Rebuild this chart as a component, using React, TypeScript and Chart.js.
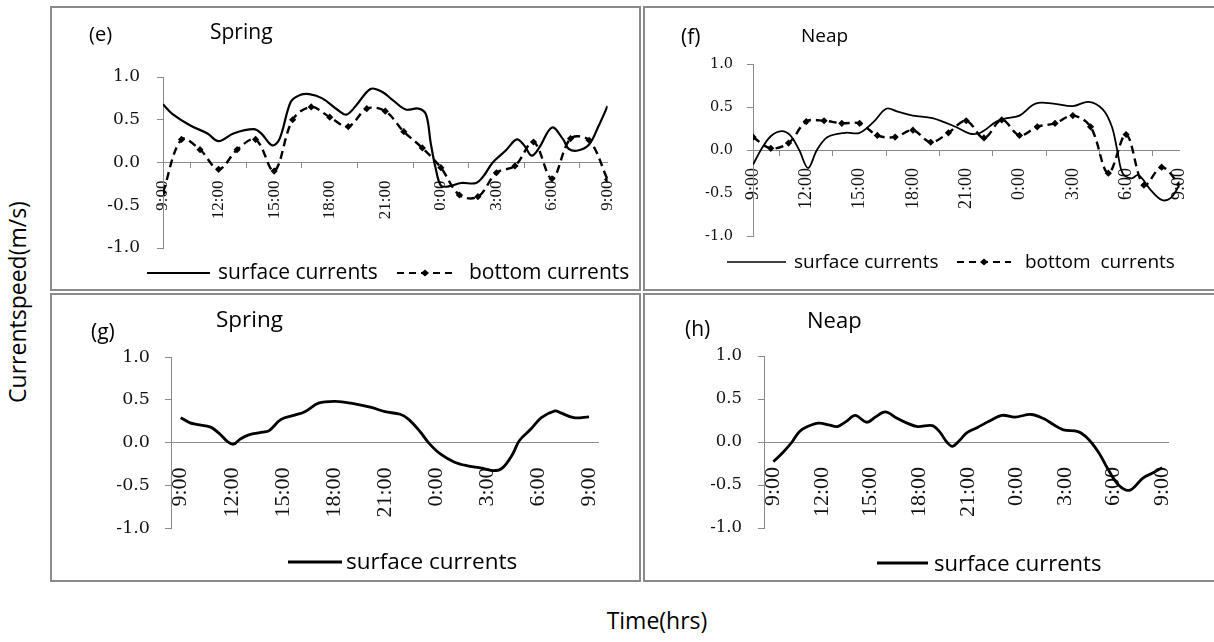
import React, { useEffect, useRef } from "react";
import { Chart, registerables } from "chart.js";
Chart.register(...registerables);

// ---- shared axis data ----
const labelHours = [0, 3, 6, 9, 12, 15, 18, 21, 24];
const timeLabels = ["9:00", "12:00", "15:00", "18:00", "21:00", "0:00", "3:00", "6:00", "9:00"];
const markHours = [1.5, 4.5, 7.5, 10.5, 13.5, 16.5, 19.5, 22.5];
const yTickValues = [-1, -0.5, 0, 0.5, 1];

// ---- (e) Spring, surface & bottom ----
const eSurfaceHours = [0, 0.5, 1.5, 2.4, 3.0, 3.8, 4.9, 5.3, 5.9, 6.3, 6.9, 7.4, 7.9, 8.6, 9.4, 9.9, 10.4, 11.2, 11.8, 12.4, 13.1, 13.8, 14.2, 14.45, 14.7, 15.0, 15.4, 16.1, 16.9, 17.3, 17.8, 18.5, 19.1, 19.5, 19.9, 20.3, 21.0, 21.6, 21.9, 22.4, 23.0, 23.5, 24];
const eSurface = [0.68, 0.57, 0.43, 0.34, 0.25, 0.34, 0.39, 0.34, 0.20, 0.28, 0.71, 0.79, 0.80, 0.75, 0.62, 0.56, 0.66, 0.86, 0.83, 0.73, 0.62, 0.63, 0.56, 0.23, -0.05, -0.27, -0.28, -0.24, -0.24, -0.16, 0.0, 0.14, 0.27, 0.20, 0.08, 0.17, 0.41, 0.27, 0.16, 0.14, 0.21, 0.42, 0.66];
const eBottomHours = [0, 1, 2, 3, 4, 5, 6, 7, 8, 9, 10, 11, 12, 13, 14, 15, 16, 17, 18, 19, 20, 21, 22, 23, 24];
const eBottom = [-0.35, 0.27, 0.15, -0.08, 0.15, 0.27, -0.10, 0.50, 0.65, 0.53, 0.42, 0.63, 0.60, 0.36, 0.17, -0.06, -0.38, -0.40, -0.12, -0.04, 0.24, -0.19, 0.28, 0.26, -0.20];

// ---- (f) Neap, surface & bottom ----
const fSurfaceHours = [0, 0.5, 1, 1.6, 2.1, 2.6, 3.1, 3.6, 4.2, 5.2, 6.0, 6.8, 7.5, 8.1, 9.0, 10.1, 11.4, 12.2, 12.8, 13.7, 14.3, 15.0, 15.9, 16.9, 18.0, 18.9, 19.7, 20.2, 20.5, 20.8, 21.3, 21.7, 22.4, 23.0, 23.5, 24];
const fSurface = [-0.17, 0.02, 0.16, 0.22, 0.17, 0.0, -0.21, 0.0, 0.15, 0.20, 0.20, 0.33, 0.48, 0.45, 0.40, 0.37, 0.27, 0.19, 0.20, 0.33, 0.37, 0.40, 0.54, 0.54, 0.51, 0.56, 0.47, 0.27, 0.0, -0.27, -0.33, -0.29, -0.47, -0.58, -0.56, -0.41];
const fBottomHours = [0, 1, 2, 3, 4, 5, 6, 7, 8, 9, 10, 11, 12, 13, 14, 15, 16, 17, 18, 19, 20, 21, 22, 23, 24];
const fBottom = [0.15, 0.02, 0.08, 0.33, 0.34, 0.31, 0.31, 0.17, 0.15, 0.23, 0.09, 0.20, 0.34, 0.14, 0.35, 0.17, 0.27, 0.31, 0.40, 0.27, -0.27, 0.18, -0.41, -0.20, -0.40];

// ---- (g) Spring, surface ----
const gSurfaceHours = [0, 0.55, 1, 1.75, 2.3, 2.75, 3.1, 3.5, 4.0, 4.8, 5.2, 5.9, 6.7, 7.3, 8.1, 9.1, 10.0, 11.2, 12.0, 12.9, 13.4, 14.1, 14.6, 15.3, 16.1, 16.8, 17.7, 18.4, 18.9, 19.5, 19.9, 20.6, 21.2, 22.0, 22.3, 23.1, 24];
const gSurface = [0.29, 0.23, 0.21, 0.18, 0.10, 0.01, -0.02, 0.04, 0.09, 0.12, 0.14, 0.27, 0.32, 0.36, 0.46, 0.48, 0.46, 0.41, 0.36, 0.33, 0.27, 0.12, -0.01, -0.14, -0.23, -0.27, -0.30, -0.33, -0.30, -0.14, 0.02, 0.16, 0.29, 0.37, 0.35, 0.29, 0.30];

// ---- (h) Neap, surface ----
const hSurfaceHours = [0, 0.6, 1.15, 1.6, 2.1, 2.8, 3.4, 3.95, 4.5, 5.05, 5.75, 6.3, 6.9, 7.6, 8.25, 8.9, 9.8, 10.25, 10.7, 11.05, 11.5, 11.95, 12.6, 13.3, 14.1, 14.9, 15.9, 16.7, 17.3, 17.9, 18.8, 19.4, 20.1, 20.6, 21.3, 22.0, 22.8, 23.4, 24];
const hSurface = [-0.23, -0.12, 0.0, 0.12, 0.18, 0.22, 0.20, 0.18, 0.24, 0.31, 0.23, 0.29, 0.35, 0.28, 0.22, 0.18, 0.19, 0.12, 0.0, -0.05, 0.02, 0.11, 0.17, 0.24, 0.31, 0.29, 0.32, 0.27, 0.20, 0.14, 0.12, 0.04, -0.13, -0.30, -0.50, -0.56, -0.42, -0.36, -0.30];

const AXIS_GRAY = "#8a8a8a";
const SANS = '"Open Sans", "Noto Sans", sans-serif';

const toXY = (xs: number[], ys: number[]) => xs.map((x, i) => ({ x, y: ys[i] }));

const surfaceSet = (xs: number[], ys: number[], width: number) => ({
  label: "surface currents",
  data: toXY(xs, ys),
  borderColor: "#000",
  backgroundColor: "#000",
  borderWidth: width,
  pointRadius: 0,
  tension: 0.35,
  fill: false,
});

const bottomSet = (xs: number[], ys: number[]) => ({
  label: "bottom currents",
  data: toXY(xs, ys),
  borderColor: "#000",
  backgroundColor: "#000",
  borderWidth: 2.4,
  borderDash: [8, 5],
  pointStyle: "rectRot",
  pointRadius: 3.6,
  pointBorderWidth: 0,
  pointBackgroundColor: "#000",
  tension: 0.35,
  fill: false,
});

type PanelCfg = {
  left: number;
  top: number;
  width: number;
  height: number;
  pad: { left: number; top: number; right: number; bottom: number };
  xMin: number;
  xMax: number;
  marks: boolean;
  xFont: number;
  xPad: number;
  yFont: number;
  yPad: number;
  datasets: any[];
};

const isLabelHour = (v: number) => labelHours.some((h) => Math.abs(h - v) < 1e-6);

function Panel({ cfg }: { cfg: PanelCfg }) {
  const ref = useRef<HTMLCanvasElement>(null);
  useEffect(() => {
    const tickList = cfg.marks
      ? [...labelHours, ...markHours].sort((a, b) => a - b)
      : labelHours.slice();
    const chart = new Chart(ref.current as HTMLCanvasElement, {
      type: "line",
      data: { datasets: cfg.datasets },
      options: {
        animation: false,
        responsive: false,
        devicePixelRatio: 1,
        layout: { padding: cfg.pad },
        plugins: { legend: { display: false }, tooltip: { enabled: false }, title: { display: false } },
        scales: {
          x: {
            type: "linear",
            position: { y: 0 } as any,
            min: cfg.xMin,
            max: cfg.xMax,
            afterBuildTicks: (s: any) => {
              s.ticks = tickList.map((v) => ({ value: v }));
            },
            grid: {
              drawOnChartArea: false,
              drawTicks: cfg.marks,
              tickLength: 5,
              tickWidth: 1,
              tickColor: (c: any) => (c.tick && isLabelHour(c.tick.value) ? "rgba(0,0,0,0)" : AXIS_GRAY),
            },
            border: { display: true, color: AXIS_GRAY, width: 1 },
            ticks: {
              autoSkip: false,
              minRotation: 90,
              maxRotation: 90,
              padding: cfg.xPad,
              color: "#111",
              font: { family: '"Liberation Serif", "Times New Roman", serif', size: cfg.xFont },
              callback: (v: any) => {
                const i = labelHours.findIndex((h) => Math.abs(h - Number(v)) < 1e-6);
                return i >= 0 ? timeLabels[i] : "";
              },
            },
          },
          y: {
            type: "linear",
            min: -1,
            max: 1,
            afterFit: (s: any) => {
              s.width = 60;
            },
            afterBuildTicks: (s: any) => {
              s.ticks = yTickValues.map((v) => ({ value: v }));
            },
            grid: { drawOnChartArea: false, drawTicks: true, tickLength: 6, tickColor: AXIS_GRAY },
            border: { display: true, color: AXIS_GRAY, width: 1 },
            ticks: {
              padding: cfg.yPad,
              color: "#111",
              font: { family: '"DejaVu Serif", serif', size: cfg.yFont },
              callback: (v: any) => Number(v).toFixed(1),
            },
          },
        },
      } as any,
    });
    return () => chart.destroy();
  }, []);
  return (
    <canvas
      ref={ref}
      width={cfg.width}
      height={cfg.height}
      style={{ position: "absolute", left: cfg.left, top: cfg.top, width: cfg.width, height: cfg.height }}
    />
  );
}

function Box({ left, top, width, height }: { left: number; top: number; width: number; height: number }) {
  return (
    <div
      style={{
        position: "absolute",
        left,
        top,
        width,
        height,
        boxSizing: "border-box",
        border: `2px solid ${AXIS_GRAY}`,
      }}
    />
  );
}

function Txt({ x, cy, size, children }: { x: number; cy: number; size: number; children: React.ReactNode }) {
  return (
    <div
      style={{
        position: "absolute",
        left: x,
        top: cy,
        transform: "translateY(-55%)",
        fontFamily: SANS,
        fontSize: size,
        lineHeight: 1,
        color: "#000",
        whiteSpace: "pre",
      }}
    >
      {children}
    </div>
  );
}

function SolidSample({ x1, x2, y, lw }: { x1: number; x2: number; y: number; lw: number }) {
  return (
    <svg style={{ position: "absolute", left: x1, top: y - 5, overflow: "visible" }} width={x2 - x1} height={10}>
      <line x1={0} y1={5} x2={x2 - x1} y2={5} stroke="#000" strokeWidth={lw} />
    </svg>
  );
}

function DashSample({ x1, x2, y }: { x1: number; x2: number; y: number }) {
  const w = x2 - x1;
  const m = w / 2;
  return (
    <svg style={{ position: "absolute", left: x1, top: y - 6, overflow: "visible" }} width={w} height={12}>
      <line x1={0} y1={6} x2={w} y2={6} stroke="#000" strokeWidth={2} strokeDasharray="7 5" />
      <polygon points={`${m - 4},6 ${m},2.5 ${m + 4},6 ${m},9.5`} fill="#000" />
    </svg>
  );
}

const panelE: PanelCfg = {
  left: 50, top: 6, width: 591, height: 285,
  pad: { left: 53, top: 71, right: 33, bottom: 43 },
  xMin: 0, xMax: 24, marks: true, xFont: 17, xPad: 13, yFont: 17, yPad: 17,
  datasets: [surfaceSet(eSurfaceHours, eSurface, 2.2), bottomSet(eBottomHours, eBottom)],
};
const panelF: PanelCfg = {
  left: 643, top: 6, width: 571, height: 285,
  pad: { left: 50, top: 58, right: 24, bottom: 55 },
  xMin: 0, xMax: 24, marks: true, xFont: 18, xPad: 13, yFont: 14.5, yPad: 14,
  datasets: [surfaceSet(fSurfaceHours, fSurface, 1.8), bottomSet(fBottomHours, fBottom)],
};
const panelG: PanelCfg = {
  left: 50, top: 293, width: 591, height: 289,
  pad: { left: 61, top: 64, right: 26, bottom: 54 },
  xMin: -0.57, xMax: 24.57, marks: false, xFont: 22, xPad: 25, yFont: 17.5, yPad: 15,
  datasets: [surfaceSet(gSurfaceHours, gSurface, 2.8)],
};
const panelH: PanelCfg = {
  left: 643, top: 293, width: 571, height: 289,
  pad: { left: 61, top: 63, right: 19, bottom: 54 },
  xMin: -0.58, xMax: 24.4, marks: false, xFont: 22, xPad: 25, yFont: 16.5, yPad: 16,
  datasets: [surfaceSet(hSurfaceHours, hSurface, 2.8)],
};

export default function App() {
  return (
    <div
      style={{
        position: "fixed",
        left: 0,
        top: 0,
        width: 1214,
        height: 642,
        overflow: "hidden",
        background: "#fff",
      }}
    >
      <Box left={50} top={6} width={591} height={285} />
      <Box left={643} top={6} width={573} height={285} />
      <Box left={50} top={293} width={591} height={289} />
      <Box left={643} top={293} width={573} height={289} />

      <Panel cfg={panelE} />
      <Panel cfg={panelF} />
      <Panel cfg={panelG} />
      <Panel cfg={panelH} />

      {/* panel titles */}
      <Txt x={89} cy={35} size={20}>(e)</Txt>
      <Txt x={210} cy={33} size={21}>Spring</Txt>
      <Txt x={681} cy={38} size={21}>(f)</Txt>
      <Txt x={801} cy={36} size={19}>Neap</Txt>
      <Txt x={91} cy={333} size={21}>(g)</Txt>
      <Txt x={216} cy={320} size={22.5}>Spring</Txt>
      <Txt x={685} cy={330} size={21}>(h)</Txt>
      <Txt x={807} cy={320} size={22}>Neap</Txt>

      {/* legends */}
      <SolidSample x1={147} x2={210} y={273} lw={2} />
      <Txt x={218} cy={273} size={21}>surface currents</Txt>
      <DashSample x1={397} x2={453} y={273} />
      <Txt x={469} cy={273} size={21}>bottom currents</Txt>

      <SolidSample x1={727} x2={786} y={262} lw={1.5} />
      <Txt x={794} cy={262} size={19}>surface currents</Txt>
      <DashSample x1={957} x2={1011} y={262} />
      <Txt x={1025} cy={262} size={19}>bottom  currents</Txt>

      <SolidSample x1={288} x2={342} y={562} lw={3} />
      <Txt x={346} cy={562} size={22.5}>surface currents</Txt>

      <SolidSample x1={877} x2={928} y={563} lw={3} />
      <Txt x={934} cy={563} size={22}>surface currents</Txt>

      {/* axis titles */}
      <div
        style={{
          position: "absolute",
          left: 17,
          top: 302,
          transform: "translate(-50%, -50%) rotate(-90deg)",
          fontFamily: SANS,
          fontSize: 23,
          lineHeight: 1,
          whiteSpace: "nowrap",
          color: "#000",
        }}
      >
        Currentspeed(m/s)
      </div>
      <div
        style={{
          position: "absolute",
          left: 657,
          top: 622,
          transform: "translate(-50%, -55%)",
          fontFamily: SANS,
          fontSize: 23,
          lineHeight: 1,
          whiteSpace: "nowrap",
          color: "#000",
        }}
      >
        Time(hrs)
      </div>
    </div>
  );
}
